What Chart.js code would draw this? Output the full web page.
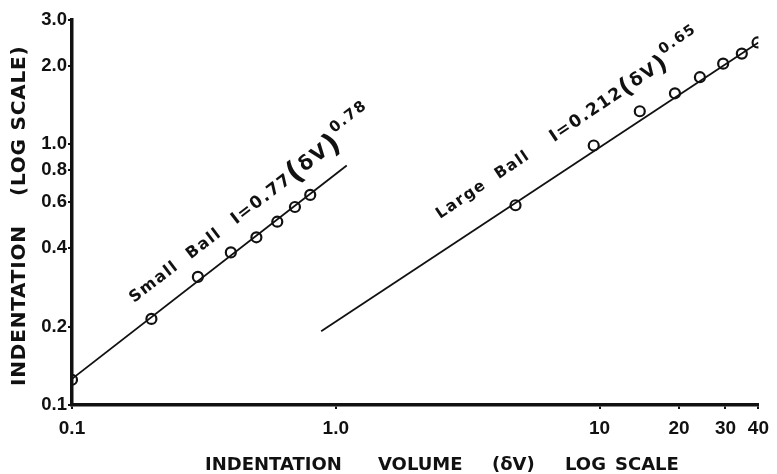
<!DOCTYPE html>
<html>
<head>
<meta charset="utf-8">
<script src="https://cdn.jsdelivr.net/npm/chart.js@4/dist/chart.umd.min.js"></script>
<style>
  html, body { margin: 0; padding: 0; background: #fff; }
  #wrap { width: 777px; height: 474px; }
</style>
</head>
<body>
<div id="wrap"><canvas id="chart" width="777" height="474"></canvas></div>
<script>
// axis ticks
const xTicks = [0.1, 1, 10, 20, 30, 40];
const xTickLabels = ['0.1', '1.0', '10', '20', '30', '40'];
const yTicks = [0.1, 0.2, 0.4, 0.6, 0.8, 1, 2, 3];
const yTickLabels = ['0.1', '0.2', '0.4', '0.6', '0.8', '1.0', '2.0', '3.0'];

// small ball readings
const smallVol = [0.1, 0.2, 0.3, 0.4, 0.5, 0.6, 0.7, 0.8];
const smallInd = [0.125, 0.214, 0.31, 0.385, 0.44, 0.505, 0.575, 0.64];
// fitted line I = 0.77(dV)^0.78, ends as drawn
const smallFitVol = [0.1, 1.1];
const smallFitInd = [0.126, 0.83];

// large ball readings
const largeVol = [4.8, 9.5, 14.2, 19.3, 24, 29.4, 34.6, 39.7];
const largeInd = [0.584, 0.99, 1.34, 1.57, 1.81, 2.04, 2.23, 2.46];
// fitted line I = 0.212(dV)^0.65, ends as drawn
const largeFitVol = [0.88, 40];
const largeFitInd = [0.192, 2.46];

const INK = '#111';
const pts = (xs, ys) => xs.map((x, i) => ({ x, y: ys[i] }));

const pointStyle = {
  showLine: false,
  pointRadius: 5,
  pointBorderWidth: 2.2,
  pointBorderColor: INK,
  pointBackgroundColor: 'rgba(0,0,0,0)'
};
const lineStyle = {
  showLine: true,
  pointRadius: 0,
  borderColor: INK,
  borderWidth: 1.8
};

// draws a run of text pieces along a rotated baseline
function drawRun(ctx, x0, y0, deg, parts, spacing) {
  ctx.save();
  ctx.translate(x0, y0);
  ctx.rotate(-deg * Math.PI / 180);
  ctx.textAlign = 'left';
  ctx.textBaseline = 'alphabetic';
  ctx.letterSpacing = spacing + 'px';
  let x = 0;
  parts.forEach(p => {
    ctx.font = 'bold ' + p.size + 'px "DejaVu Sans"';
    ctx.fillText(p.text, x, p.dy || 0);
    x += ctx.measureText(p.text).width + (p.gap || 0);
  });
  ctx.restore();
}

const textPlugin = {
  id: 'textPlugin',
  afterDraw(chart) {
    const ctx = chart.ctx;
    ctx.save();
    ctx.fillStyle = INK;

    // y title
    ctx.font = 'bold 20px "DejaVu Sans"';
    ctx.textBaseline = 'middle';
    ctx.letterSpacing = '0.8px';
    [['INDENTATION', 386], ['(LOG SCALE)', 196]].forEach(([t, y]) => {
      ctx.save();
      ctx.translate(20, y);
      ctx.rotate(-Math.PI / 2);
      ctx.fillText(t, 0, 0);
      ctx.restore();
    });

    // x title
    ctx.font = 'bold 18px "DejaVu Sans"';
    ctx.textBaseline = 'alphabetic';
    ctx.letterSpacing = '0px';
    [['INDENTATION', 205], ['VOLUME', 378], ['(δV)', 492], ['LOG', 565], ['SCALE', 615]].forEach(([t, x]) => {
      ctx.fillText(t, x, 470);
    });

    drawRun(ctx, 134, 303, 37.5, [
      { text: 'Small  Ball  ', size: 16, gap: 3 },
      { text: 'I=0.77', size: 17 },
      { text: '(', size: 29, dy: 3 },
      { text: 'δV', size: 20 },
      { text: ')', size: 29, dy: 3 },
      { text: '0.78', size: 15, dy: -13 }
    ], 1.5);

    drawRun(ctx, 440, 219, 34, [
      { text: 'Large  Ball    ', size: 15.5 },
      { text: 'I=0.212', size: 17 },
      { text: '(', size: 24, dy: 2 },
      { text: 'δV', size: 18 },
      { text: ')', size: 24, dy: 2 },
      { text: '0.65', size: 14.5, dy: -12 }
    ], 1.5);

    ctx.restore();
  }
};

new Chart(document.getElementById('chart'), {
  type: 'scatter',
  data: {
    datasets: [
      Object.assign({ label: 'Small Ball fit', data: pts(smallFitVol, smallFitInd) }, lineStyle),
      Object.assign({ label: 'Large Ball fit', data: pts(largeFitVol, largeFitInd) }, lineStyle),
      Object.assign({ label: 'Small Ball', data: pts(smallVol, smallInd) }, pointStyle),
      Object.assign({ label: 'Large Ball', data: pts(largeVol, largeInd) }, pointStyle)
    ]
  },
  options: {
    responsive: false,
    animation: false,
    layout: { padding: { left: 0, top: 20, right: 17, bottom: 0 } },
    plugins: { legend: { display: false }, tooltip: { enabled: false } },
    scales: {
      x: {
        type: 'logarithmic',
        min: 0.1,
        max: 40,
        afterBuildTicks: s => { s.ticks = xTicks.map(v => ({ value: v })); },
        afterFit: s => { s.height = 69; },
        ticks: {
          autoSkip: false,
          maxRotation: 0,
          padding: 8,
          color: INK,
          font: { family: '"Liberation Sans", Arial, sans-serif', size: 19, weight: 'bold' },
          callback: (v, i) => xTickLabels[i]
        },
        grid: { drawOnChartArea: false, drawTicks: true, tickLength: 4, color: INK, lineWidth: 2 },
        border: { display: true, color: INK, width: 3.5 }
      },
      y: {
        type: 'logarithmic',
        min: 0.1,
        max: 3,
        afterBuildTicks: s => { s.ticks = yTicks.map(v => ({ value: v })); },
        afterFit: s => { s.width = 72; },
        ticks: {
          autoSkip: false,
          padding: 1,
          color: INK,
          font: { family: '"Liberation Sans", Arial, sans-serif', size: 18.5, weight: 'bold' },
          callback: (v, i) => yTickLabels[i]
        },
        grid: { drawOnChartArea: false, drawTicks: true, tickLength: 4, color: INK, lineWidth: 2 },
        border: { display: true, color: INK, width: 3.5 }
      }
    }
  },
  plugins: [textPlugin]
});
</script>
</body>
</html>
